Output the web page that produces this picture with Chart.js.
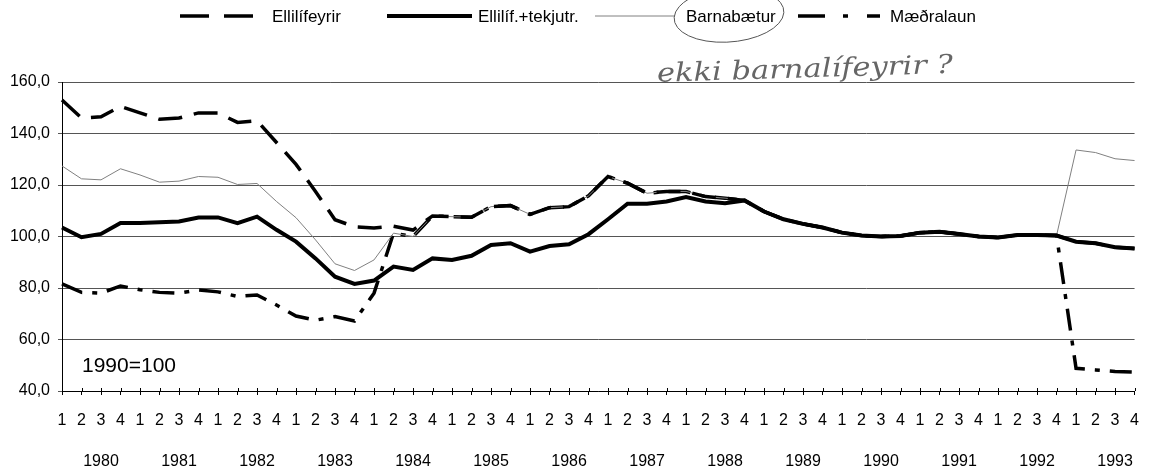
<!DOCTYPE html>
<html>
<head>
<meta charset="utf-8">
<title>Ellilífeyrir, barnabætur og mæðralaun 1980-1993</title>
<script src="https://cdn.jsdelivr.net/npm/chart.js@4.4.1/dist/chart.umd.min.js"></script>
<style>
  html, body { margin: 0; padding: 0; background: #fff; }
  #wrap { width: 1154px; height: 471px; }
</style>
</head>
<body>
<div id="wrap"><canvas id="chart" width="1154" height="471"></canvas></div>
<script>
// ===== DATA (1990=100, quarterly) =====
const years = [1980, 1981, 1982, 1983, 1984, 1985, 1986, 1987, 1988, 1989, 1990, 1991, 1992, 1993];
const quarters = ['1', '2', '3', '4'];
const yTicks = [40, 60, 80, 100, 120, 140, 160];
const seriesNames = ['Ellilífeyrir', 'Ellilíf.+tekjutr.', 'Barnabætur', 'Mæðralaun'];

const ellilifeyrir = [
  153, 146, 146.5, 150.5,   148, 145.5, 146, 148,
  148, 144.3, 145, 136.5,   128, 117.5, 106.5, 103.8,
  103.3, 104, 102.5, 108,   107.7, 107.5, 111.6, 112,
  108.6, 111.2, 111.6, 115.8, 123.3, 120.7, 116.8, 117.5,
  117.5, 115.5, 114.9, 114, 109.7, 106.7, 104.9, 103.5,
  101.5, 100.4, 100, 100.2, 101.5, 101.8, 101, 100,
  99.6, 100.6, 100.6, 100.4, 98, 97.4, 95.8, 95.3
];
const tekjutr = [
  103.5, 99.7, 101, 105.2,  105.2, 105.5, 105.8, 107.4,
  107.4, 105.2, 107.7, 102.6, 98, 91.5, 84.4, 81.6,
  82.9, 88.3, 87, 91.5,     90.9, 92.5, 96.7, 97.4,
  94.1, 96.3, 97, 100.9,    106.7, 112.7, 112.7, 113.6,
  115.3, 113.6, 112.9, 114, 109.7, 106.7, 104.9, 103.5,
  101.5, 100.4, 100, 100.2, 101.5, 101.8, 101, 100,
  99.6, 100.6, 100.6, 100.4, 98, 97.4, 95.8, 95.3
];
const barnabaetur = [
  127.4, 122.4, 122, 126.3, 123.9, 121.1, 121.5, 123.3,
  123, 120.2, 120.6, 113.6, 107.3, 98.7, 89.4, 86.8,
  90.9, 101.3, 100, 108,    107.7, 107.5, 111.6, 112,
  108.6, 111.2, 111.6, 115.8, 123.3, 120.7, 116.8, 117.5,
  117.5, 115.5, 114.9, 114, 109.7, 106.7, 104.9, 103.5,
  101.5, 100.4, 100, 100.2, 101.5, 101.8, 101, 100,
  99.6, 100.6, 100.6, 100.4, 133.6, 132.6, 130.2, 129.5
];
const maedralaun = [
  81.6, 78.3, 78, 80.8,     79.3, 78.3, 78, 79.2,
  78.5, 76.7, 77.3, 73.4,   69.1, 67.5, 68.9, 67.2,
  78, 101.3, 100, 108,      107.7, 107.5, 111.6, 112,
  108.6, 111.2, 111.6, 115.8, 123.3, 120.7, 116.8, 117.5,
  117.5, 115.5, 114.9, 114, 109.7, 106.7, 104.9, 103.5,
  101.5, 100.4, 100, 100.2, 101.5, 101.8, 101, 100,
  99.6, 100.6, 100.6, 100.4, 48.8, 48.2, 47.6, 47.3
];

// x labels: quarter number, with the year written two lines under Q3
const labels = [];
years.forEach(function(y){
  quarters.forEach(function(q){
    labels.push(q === '3' ? [q, '', String(y)] : q);
  });
});

const FONT = "'Liberation Sans', Arial, Helvetica, sans-serif";

// ===== LEGEND + NOTES (drawn on top) =====
const extras = {
  id: 'extras',
  afterDraw: function(chart, args, opts){
    const ctx = chart.ctx;
    const ds = chart.data.datasets;
    const area = chart.chartArea;
    ctx.save();

    // x ticks cross the axis line a little
    const xs = chart.scales.x;
    ctx.strokeStyle = '#000';
    ctx.lineWidth = 1;
    ctx.beginPath();
    for (let i = 0; i < labels.length; i++) {
      const px = Math.round(xs.getPixelForValue(i)) + 0.5;
      ctx.moveTo(px, area.bottom - 3);
      ctx.lineTo(px, area.bottom);
    }
    ctx.stroke();

    // legend row
    opts.legend.forEach(function(item, i){
      const d = ds[i];
      ctx.beginPath();
      ctx.lineWidth = d.borderWidth;
      ctx.strokeStyle = d.borderColor;
      ctx.setLineDash(d.legendDash || d.borderDash || []);
      ctx.moveTo(item.x0, opts.legendY);
      ctx.lineTo(item.x1, opts.legendY);
      ctx.stroke();
      ctx.setLineDash([]);
      ctx.fillStyle = '#000';
      ctx.font = '17px ' + FONT;
      ctx.textBaseline = 'middle';
      ctx.textAlign = 'left';
      ctx.fillText(d.label, item.tx, opts.legendY + 1);
    });

    // base note
    ctx.font = '21px ' + FONT;
    ctx.fillStyle = '#000';
    ctx.fillText('1990=100', area.left + 20, 366);

    // hand-written remarks on the scan
    ctx.strokeStyle = '#555';
    ctx.lineWidth = 1;
    ctx.beginPath();
    ctx.ellipse(729, 15, 55, 27, -0.08, -0.35 * Math.PI, 1.55 * Math.PI);
    ctx.stroke();

    ctx.translate(657, 75);
    ctx.rotate(-0.03);
    ctx.font = 'italic 26px "DejaVu Serif", serif';
    const txt = 'ekki barnalífeyrir ?';
    const w = ctx.measureText(txt).width;
    ctx.scale(296 / w, 1);
    ctx.fillStyle = '#666';
    ctx.fillText(txt, 0, 0);
    ctx.restore();
  }
};

const ctx = document.getElementById('chart').getContext('2d');

new Chart(ctx, {
  type: 'line',
  data: {
    labels: labels,
    datasets: [
      {
        label: seriesNames[0],
        data: ellilifeyrir,
        borderColor: '#000',
        borderWidth: 3.5,
        borderDash: [24, 12],
        legendDash: [29, 15]
      },
      {
        label: seriesNames[1],
        data: tekjutr,
        borderColor: '#000',
        borderWidth: 4
      },
      {
        label: seriesNames[2],
        data: barnabaetur,
        borderColor: '#808080',
        borderWidth: 1
      },
      {
        label: seriesNames[3],
        data: maedralaun,
        borderColor: '#000',
        borderWidth: 3.5,
        borderDash: [22, 10, 5, 10],
        legendDash: [27, 18, 5, 19, 13]
      }
    ]
  },
  options: {
    responsive: false,
    animation: false,
    devicePixelRatio: 1,
    layout: { padding: { left: 0, top: 82, right: 7, bottom: 0 } },
    elements: {
      point: { radius: 0 },
      line: { tension: 0, fill: false, borderCapStyle: 'butt', borderJoinStyle: 'miter' }
    },
    plugins: {
      legend: { display: false },
      tooltip: { enabled: false },
      extras: {
        legendY: 16,
        legend: [
          { x0: 180, x1: 253, tx: 272 },
          { x0: 387, x1: 472, tx: 478 },
          { x0: 595, x1: 675, tx: 686 },
          { x0: 798, x1: 880, tx: 890 }
        ]
      }
    },
    scales: {
      x: {
        grid: { drawOnChartArea: false, drawTicks: true, tickLength: 4, color: '#000' },
        border: { color: '#000', width: 1 },
        ticks: {
          autoSkip: false, maxRotation: 0, minRotation: 0,
          padding: 15, color: '#000',
          font: { family: FONT, size: 16, lineHeight: 1.28 }
        },
        afterFit: function(scale){ scale.height = 80; }
      },
      y: {
        min: 40,
        max: 160,
        afterBuildTicks: function(scale){
          scale.ticks = yTicks.map(function(v){ return { value: v }; });
        },
        grid: { color: '#555', lineWidth: 1, tickLength: 4 },
        border: { color: '#000', width: 1 },
        ticks: {
          padding: 8, color: '#000',
          font: { family: FONT, size: 16 },
          callback: function(v){ return v.toFixed(1).replace('.', ','); }
        },
        afterFit: function(scale){ scale.width = 62; }
      }
    }
  },
  plugins: [extras]
});
</script>
</body>
</html>
